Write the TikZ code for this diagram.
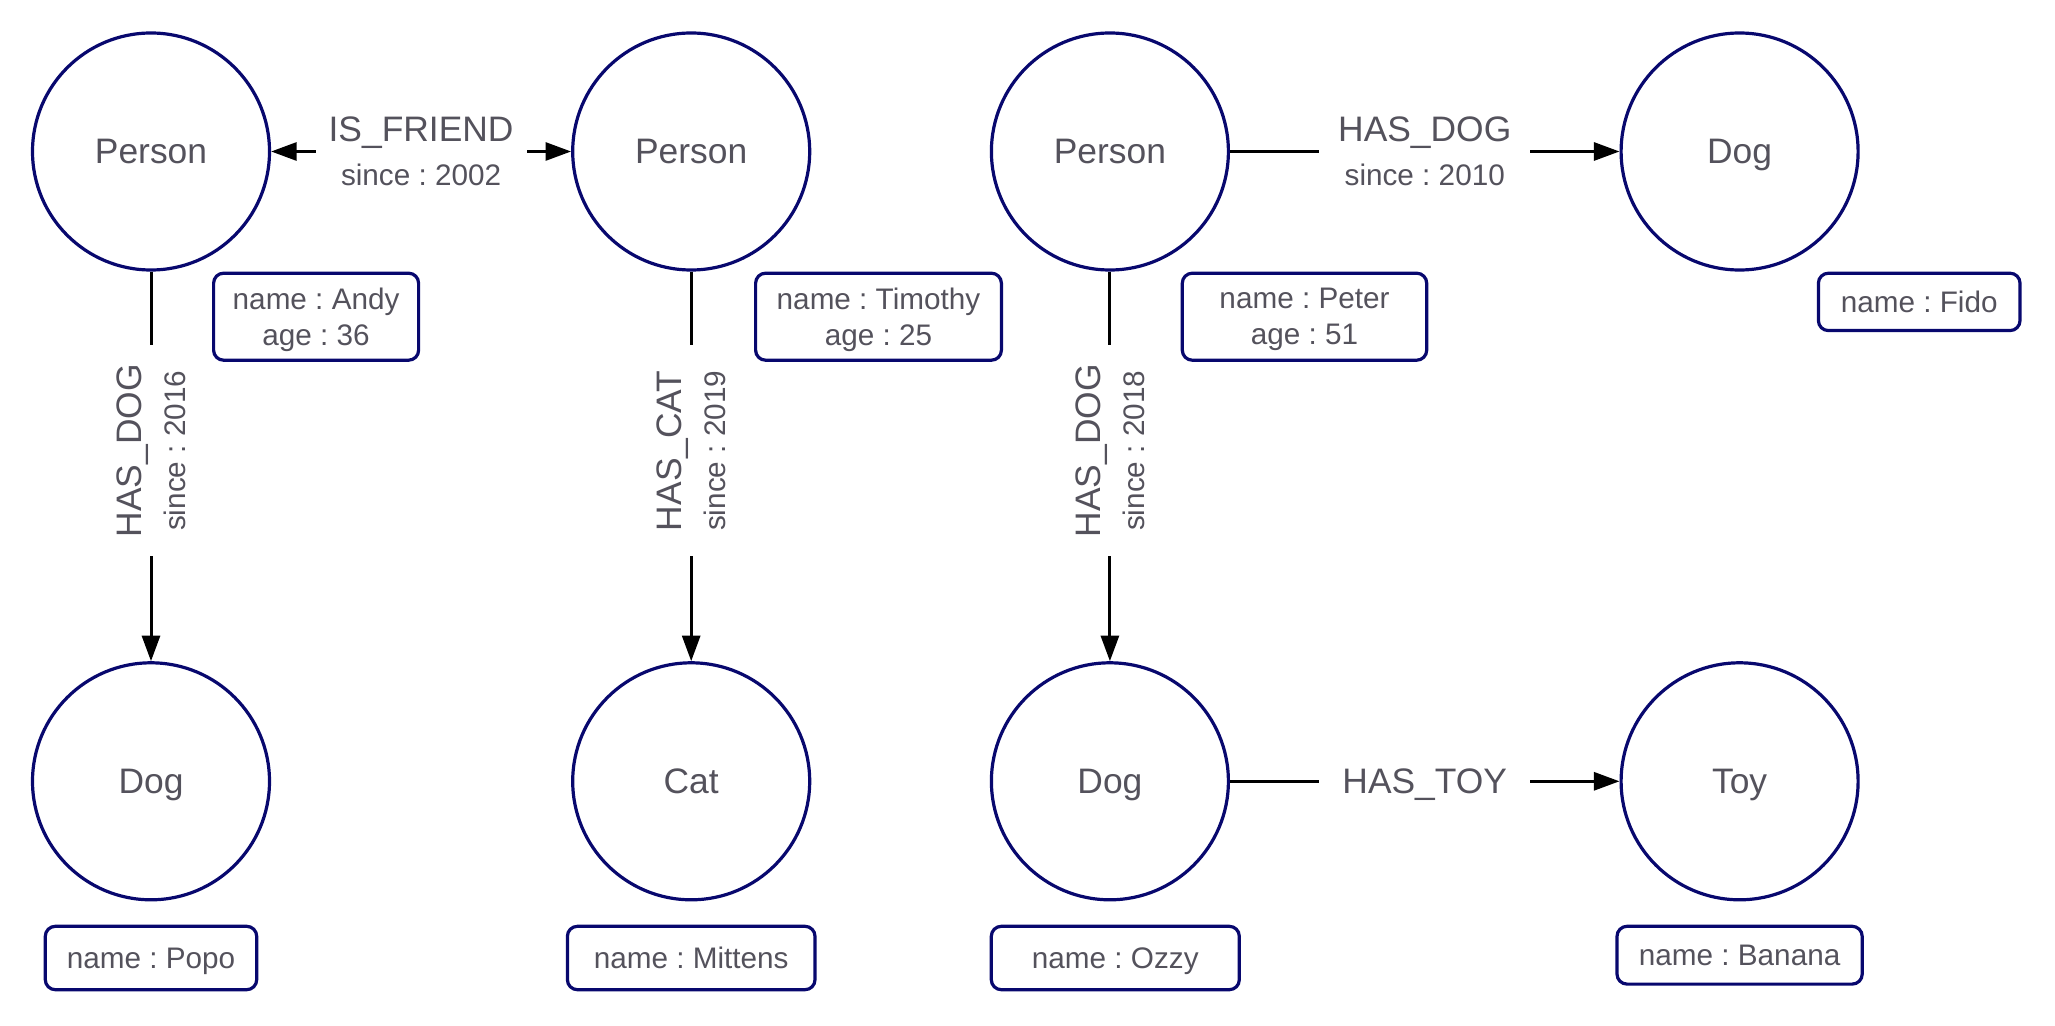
\documentclass[tikz,border=0pt]{standalone}
\usepackage{fontspec}
\setmainfont{Liberation Sans}
\usepackage{tikz}
\usetikzlibrary{positioning, arrows.meta}
\definecolor{navy}{RGB}{8,8,110}
\definecolor{ink}{RGB}{84,82,92}
\newcommand{\reltext}{\fontsize{17.7}{22}\selectfont}
\newcommand{\proptext}{\fontsize{14.85}{18}\selectfont}
\frenchspacing

\begin{document}
\begin{tikzpicture}[x=0.5pt, y=-0.5pt, baseline=(current bounding box.base),
	entity/.style={circle, draw=navy, line width=1.6pt, minimum size=118.5pt, inner sep=0pt, text=ink, font=\reltext, text depth=0pt},
	props/.style={rectangle, rounded corners=5pt, draw=navy, line width=1.6pt, text=ink, font=\proptext, align=center, inner sep=0pt, text depth=0pt},
	reledge/.style={line width=1.5pt},
	oneway/.style={-{Triangle[length=12.8pt, width=9pt]}},
	twoway/.style={{Triangle[length=12.8pt, width=9pt]}-{Triangle[length=12.8pt, width=9pt]}},
	rellabel/.style={fill=white, text=ink, font=\reltext, align=center, minimum width=105.5pt, inner xsep=0pt, inner ysep=2pt}]
	\useasboundingbox (0,0) rectangle (2055,1026);

	\node[entity] (andy) at (151,151.5) {Person};
	\node[entity, right=150pt of andy] (timothy) {Person};
	\node[entity, right=89.25pt of timothy] (peter) {Person};
	\node[entity, right=194.75pt of peter] (fido) {Dog};

	\node[entity, below=194.8pt of andy] (popo) {Dog};
	\node[entity, below=194.8pt of timothy] (mittens) {Cat};
	\node[entity, below=194.8pt of peter] (ozzy) {Dog};
	\node[entity, below=194.8pt of fido] (banana) {Toy};

	\node[props, minimum width=102.5pt, minimum height=43.5pt, below right=0pt and 30.5pt of andy.south] (andyprops) {name : Andy\\age : 36};
	\node[props, minimum width=122.9pt, minimum height=43.5pt, below right=0pt and 31.4pt of timothy.south] (timothyprops) {name : Timothy\\age : 25};
	\node[props, minimum width=122.2pt, minimum height=43.5pt, below right=0pt and 35.4pt of peter.south] (peterprops) {name : Peter\\age : 51};
	\node[props, minimum width=100.8pt, minimum height=28.7pt, below right=0pt and 38.6pt of fido.south] (fidoprops) {name : Fido};

	\node[props, minimum width=105.7pt, minimum height=31.7pt, below=11.65pt of popo] (popoprops) {name : Popo};
	\node[props, minimum width=123.8pt, minimum height=31.7pt, below=11.65pt of mittens] (mittensprops) {name : Mittens};
	\node[props, minimum width=124pt, minimum height=31.7pt, below=11.65pt of ozzy, xshift=2.7pt] (ozzyprops) {name : Ozzy};
	\node[props, minimum width=122.6pt, minimum height=28.9pt, below=11.65pt of banana] (bananaprops) {name : Banana};

	\draw[reledge, twoway] (andy) -- node[rellabel] {IS\_FRIEND\\\proptext since : 2002} (timothy);
	\draw[reledge, oneway] (peter) -- node[rellabel] {HAS\_DOG\\\proptext since : 2010} (fido);
	\draw[reledge, oneway] (ozzy) -- node[rellabel, text depth=0pt] {HAS\_TOY} (banana);

	\draw[reledge, oneway] (andy) -- node[rellabel, rotate=90, pos=0.46] {HAS\_DOG\\\proptext since : 2016} (popo);
	\draw[reledge, oneway] (timothy) -- node[rellabel, rotate=90, pos=0.46] {HAS\_CAT\\\proptext since : 2019} (mittens);
	\draw[reledge, oneway] (peter) -- node[rellabel, rotate=90, pos=0.46] {HAS\_DOG\\\proptext since : 2018} (ozzy);
\end{tikzpicture}
\end{document}
